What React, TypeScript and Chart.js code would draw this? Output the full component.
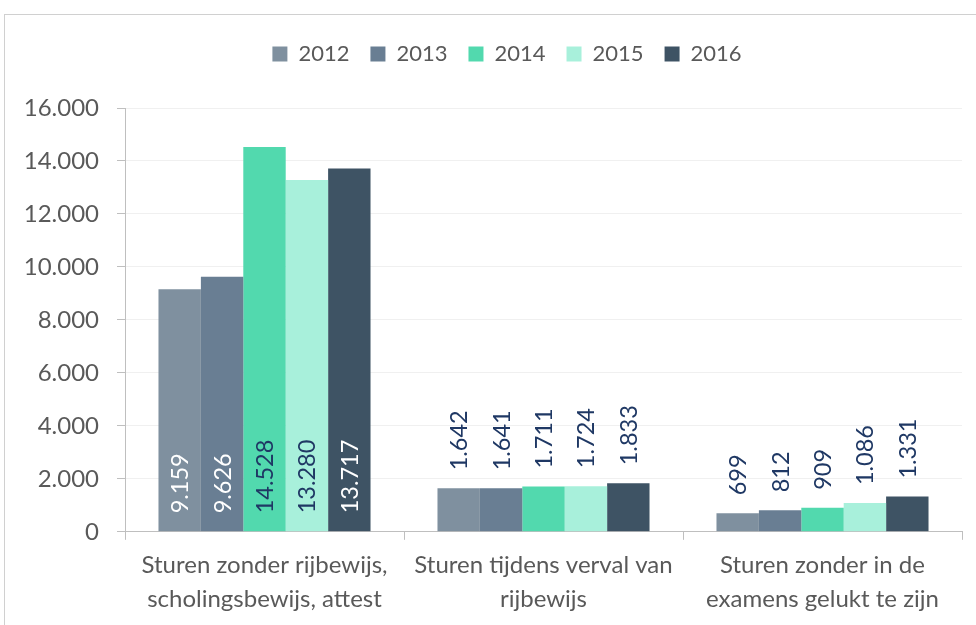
import React, { useEffect, useRef } from "react";
import { Chart, registerables } from "chart.js";

Chart.register(...registerables);

const categories: string[][] = [
  ["Sturen zonder rijbewijs,", "scholingsbewijs, attest"],
  ["Sturen tijdens verval van", "rijbewijs"],
  ["Sturen zonder in de", "examens gelukt te zijn"],
];
const years = ["2012", "2013", "2014", "2015", "2016"];
const v2012 = [9159, 1642, 699];
const v2013 = [9626, 1641, 812];
const v2014 = [14528, 1711, 909];
const v2015 = [13280, 1724, 1086];
const v2016 = [13717, 1833, 1331];
const seriesValues = [v2012, v2013, v2014, v2015, v2016];
const colors = ["#7F909F", "#697E93", "#52D9AE", "#A8F0DB", "#3E5364"];
const insideLabelColors = ["#FFFFFF", "#FFFFFF", "#1F3864", "#1F3864", "#FFFFFF"];
const outsideLabelColor = "#1F3864";
const yMax = 16000;
const yStep = 2000;

const FONT = "Lato";
const fmt = (n: number) => n.toString().replace(/\B(?=(\d{3})+(?!\d))/g, ".");

const labelPlugin = {
  id: "barLabels",
  afterDatasetsDraw(chart: any) {
    const ctx = chart.ctx;
    ctx.save();
    ctx.font = `23.5px ${FONT}`;
    ctx.textBaseline = "middle";
    ctx.textAlign = "left";
    chart.data.datasets.forEach((ds: any, di: number) => {
      const meta = chart.getDatasetMeta(di);
      meta.data.forEach((bar: any, i: number) => {
        const val = ds.data[i];
        const text = fmt(val);
        const w = ctx.measureText(text).width;
        const h = bar.base - bar.y;
        const pad = 18;
        let y: number;
        if (h > w + 2 * pad) {
          y = bar.base - pad;
          ctx.fillStyle = insideLabelColors[di];
        } else {
          y = bar.y - pad;
          ctx.fillStyle = outsideLabelColor;
        }
        ctx.save();
        ctx.translate(bar.x, y);
        ctx.rotate(-Math.PI / 2);
        ctx.fillText(text, 0, 1);
        ctx.restore();
      });
    });
    ctx.restore();
  },
};

const legendShift = {
  id: "legendShift",
  afterLayout(chart: any) {
    const lg = chart.legend;
    if (lg) {
      lg.left += 26;
      lg.right += 26;
    }
  },
};

export default function App() {
  const ref = useRef<HTMLCanvasElement>(null);
  useEffect(() => {
    if (!ref.current) return;
    const chart = new Chart(ref.current, {
      type: "bar",
      data: {
        labels: categories,
        datasets: years.map((y, i) => ({
          label: y,
          data: seriesValues[i],
          backgroundColor: colors[i],
          borderWidth: 0,
          barPercentage: 1,
          categoryPercentage: 0.76,
        })),
      },
      options: {
        animation: false,
        responsive: false,
        maintainAspectRatio: false,
        layout: { padding: { left: 0, right: 14, top: 22, bottom: 1 } },
        plugins: {
          legend: {
            position: "top",
            labels: {
              boxWidth: 15,
              boxHeight: 15,
              padding: 21,
              color: "#595959",
              font: { family: FONT, size: 22 },
            },
          },
          title: {
            display: true,
            text: "",
            weight: 500,
            position: "top",
            font: { size: 10, lineHeight: 1 },
            padding: { top: 23, bottom: 0 },
          },
          tooltip: { enabled: false },
        },
        scales: {
          x: {
            grid: {
              display: true,
              offset: true,
              drawOnChartArea: false,
              tickLength: 8,
              color: "#BFBFBF",
            },
            border: { display: true, color: "#BFBFBF", width: 1 },
            ticks: {
              color: "#595959",
              font: { family: FONT, size: 24, lineHeight: 1.42 },
              padding: 8,
              maxRotation: 0,
              autoSkip: false,
            },
          },
          y: {
            min: 0,
            max: yMax,
            afterFit: (s: any) => {
              s.width = 125;
            },
            grid: { color: "#F0F0F0", tickColor: "#BFBFBF", tickLength: 8 },
            border: { display: true, color: "#BFBFBF", width: 1 },
            ticks: {
              stepSize: yStep,
              color: "#595959",
              font: { family: FONT, size: 24 },
              padding: 18,
              callback: (v: any) => fmt(Number(v)),
            },
          },
        },
      },
      plugins: [labelPlugin, legendShift],
    });
    return () => chart.destroy();
  }, []);

  return (
    <div style={{ position: "absolute", left: 0, top: 0, width: 976, height: 625, overflow: "hidden", background: "#fff" }}>
      <div
        style={{
          position: "absolute",
          left: 4,
          top: 14,
          width: 1100,
          height: 800,
          border: "1px solid #D0D0D0",
        }}
      />
      <canvas ref={ref} width={976} height={625} style={{ position: "absolute", left: 0, top: 0 }} />
    </div>
  );
}
